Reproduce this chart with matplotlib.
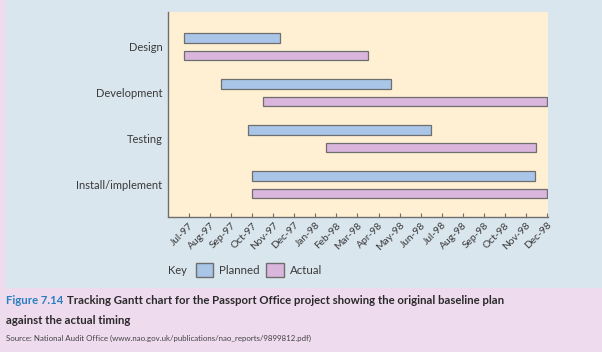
import matplotlib
matplotlib.use('Agg')
import matplotlib.pyplot as plt
from matplotlib.patches import Rectangle, Patch

plt.rcParams['font.family'] = ['Lato', 'DejaVu Sans']

# months counted from Jun-97 = 0
months = ['Jul-97', 'Aug-97', 'Sep-97', 'Oct-97', 'Nov-97', 'Dec-97',
          'Jan-98', 'Feb-98', 'Mar-98', 'Apr-98', 'May-98', 'Jun-98',
          'Jul-98', 'Aug-98', 'Sep-98', 'Oct-98', 'Nov-98', 'Dec-98']
tasks = ['Design', 'Development', 'Testing', 'Install/implement']
planned_start = [0.75, 2.5, 3.8, 4.0]
planned_end = [5.3, 10.6, 12.5, 17.45]
actual_start = [0.75, 4.5, 7.5, 4.0]
actual_end = [9.5, 18.0, 17.5, 18.0]

BLUE_BG = '#dae6ee'
PINK_BG = '#eedbee'
CREAM = '#fff0d3'
C_PLAN = '#a9c5e8'
C_ACT = '#dab5dc'
EDGE = '#6e6e6e'
TXT = '#3a3a3a'

fig = plt.figure(figsize=(6.02, 3.52), dpi=100)
fig.patch.set_facecolor(PINK_BG)
bg = Rectangle((6 / 602, 1 - 288 / 352), 1, 288 / 352,
               transform=fig.transFigure, facecolor=BLUE_BG,
               edgecolor='none', zorder=-5)
fig.add_artist(bg)

ax = fig.add_axes([168 / 602, 1 - 216.5 / 352, 380 / 602, 204.5 / 352])
ax.set_zorder(2)
ax.set_facecolor(CREAM)

ys = list(range(len(tasks)))
off = 0.19
h = 0.21
ax.barh([y - off for y in ys], [e - s for s, e in zip(planned_start, planned_end)],
        left=planned_start, height=h, color=C_PLAN, edgecolor=EDGE, linewidth=0.9)
ax.barh([y + off for y in ys], [e - s for s, e in zip(actual_start, actual_end)],
        left=actual_start, height=h, color=C_ACT, edgecolor=EDGE, linewidth=0.9)

ax.set_xlim(0, 18.05)
ax.set_ylim(3.69, -0.752)
ax.set_yticks(ys)
ax.set_yticklabels(tasks, fontsize=8, color=TXT)
ax.tick_params(axis='y', length=0, pad=4)
ax.set_xticks(range(1, 19))
ax.set_xticklabels(months, rotation=45, ha='right', rotation_mode='anchor',
                   fontsize=7.4, color=TXT)
ax.tick_params(axis='x', direction='in', length=3, color=EDGE, pad=3)
for s in ['top', 'right']:
    ax.spines[s].set_visible(False)
for s in ['left', 'bottom']:
    ax.spines[s].set_color(EDGE)
    ax.spines[s].set_linewidth(1.0)

# key
fig.text(168 / 602, 1 - 270 / 352, 'Key', fontsize=8, color=TXT, va='center')
handles = [Patch(facecolor=C_PLAN, edgecolor=EDGE, label='Planned'),
           Patch(facecolor=C_ACT, edgecolor=EDGE, label='Actual')]
fig.legend(handles=handles, loc='center left', bbox_to_anchor=(196 / 602, 1 - 270 / 352),
           ncol=2, frameon=False, fontsize=8.3, handlelength=1.5, handleheight=1.5,
           handletextpad=0.5, columnspacing=0.6, labelcolor=TXT, borderaxespad=0,
           borderpad=0)

# caption
fig.text(6 / 602, 1 - 301 / 352, 'Figure 7.14', fontsize=8.2, fontweight='bold',
         color='#2b7fc0', va='center')
fig.text(67 / 602, 1 - 301 / 352,
         'Tracking Gantt chart for the Passport Office project showing the original baseline plan',
         fontsize=8.2, fontweight='bold', color='#2a2a2a', va='center')
fig.text(6 / 602, 1 - 320 / 352, 'against the actual timing', fontsize=8.2,
         fontweight='bold', color='#2a2a2a', va='center')
fig.text(6 / 602, 1 - 338 / 352,
         'Source: National Audit Office (www.nao.gov.uk/publications/nao_reports/9899812.pdf)',
         fontsize=5.7, color='#444444', va='center')

fig.savefig('out.png', dpi=100, facecolor=fig.get_facecolor())
